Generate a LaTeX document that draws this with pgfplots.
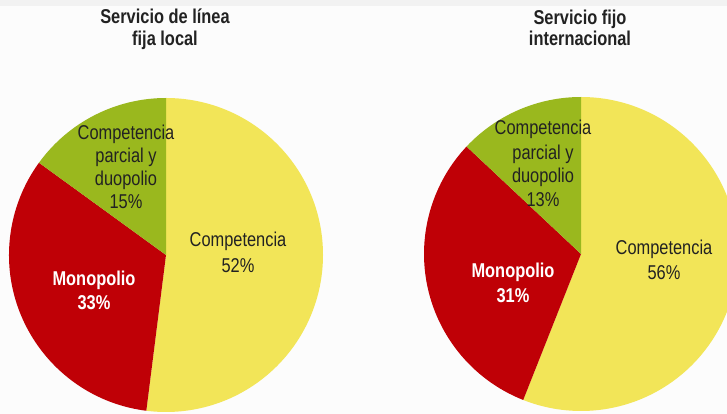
\documentclass[border=0pt]{standalone}
\usepackage{pgfplots}
\pgfplotsset{compat=1.18}
\usepackage{pgfplotstable}
\usepackage{fontspec}
\setmainfont{Liberation Sans}[FakeStretch=0.82]

\definecolor{piyellow}{RGB}{242,229,88}
\definecolor{pired}{RGB}{191,0,6}
\definecolor{pigreen}{RGB}{154,184,30}
\definecolor{bg}{RGB}{252,252,252}
\definecolor{txt}{RGB}{34,34,34}

% shares (percent), clockwise from 12 o'clock
\pgfplotstableread{
share color
52 piyellow
33 pired
15 pigreen
}\localdata
\pgfplotstableread{
share color
56 piyellow
31 pired
13 pigreen
}\intldata

% one pie: table, centre x, centre y (pixels, y upwards), radius
\newcommand{\pie}[4]{%
  \pgfplotstablegetrowsof{#1}%
  \pgfmathtruncatemacro{\nrows}{\pgfplotsretval-1}%
  \def\angstart{90}%
  \pgfplotsforeachungrouped \i in {0,...,\nrows}{%
    \pgfplotstablegetelem{\i}{share}\of{#1}\let\sh\pgfplotsretval
    \pgfplotstablegetelem{\i}{color}\of{#1}\let\col\pgfplotsretval
    \pgfmathsetmacro{\angend}{\angstart-3.6*\sh}%
    \edef\temp{\noexpand\fill[\col] (axis cs:#2,#3) -- ++(\angstart:#4bp)
      arc[start angle=\angstart, end angle=\angend, radius=#4bp] -- cycle;}%
    \temp
    \global\let\angstart\angend
  }%
}
% one line of text at its baseline
\tikzset{lbl/.style={anchor=base, inner sep=0pt, font=\fontsize{20bp}{23bp}\selectfont}}
\newcommand{\lbl}[4][txt]{\node[lbl, text=#1] at (axis cs:#2,#3) {#4};}

\begin{document}
\begin{tikzpicture}
\begin{axis}[
    width=727bp, height=414bp, scale only axis,
    xmin=0, xmax=727, ymin=0, ymax=414,
    hide axis, clip=true,
]
\fill[bg] (axis cs:0,0) rectangle (axis cs:727,414);
\fill[black!5] (axis cs:0,408) rectangle (axis cs:727,414);

\pie{\localdata}{166}{159}{157}
\pie{\intldata}{581}{160}{157}

% titles
\lbl{165}{390}{\bfseries Servicio de línea}
\lbl{165}{368}{\bfseries fija local}
\lbl{580}{389}{\bfseries Servicio fijo}
\lbl{580}{368}{\bfseries internacional}
% left pie
\lbl{126}{274}{Competencia}
\lbl{126}{251}{parcial y}
\lbl{126}{228}{duopolio}
\lbl{126}{205}{15\%}
\lbl{238}{167}{Competencia}
\lbl{238}{141}{52\%}
\lbl[white]{94}{128}{\bfseries Monopolio}
\lbl[white]{94}{104}{\bfseries 33\%}
% right pie
\lbl{543}{279}{Competencia}
\lbl{543}{254}{parcial y}
\lbl{543}{231}{duopolio}
\lbl{543}{207}{13\%}
\lbl{664}{159}{Competencia}
\lbl{664}{134}{56\%}
\lbl[white]{513}{136}{\bfseries Monopolio}
\lbl[white]{513}{111}{\bfseries 31\%}
\end{axis}
\end{tikzpicture}
\end{document}
